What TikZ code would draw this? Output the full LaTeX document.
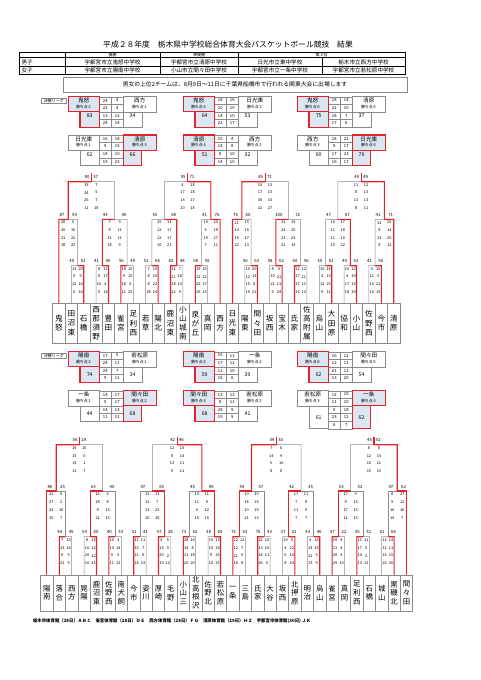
\documentclass[tikz,border=0pt]{standalone}
\usepackage{fontspec}
\setmainfont{Noto Sans CJK JP}
\usetikzlibrary{calc}
\definecolor{C_WIN}{HTML}{E4222B}
\definecolor{C_FILL}{HTML}{DCE6F1}
\definecolor{C_LINE}{HTML}{8A8A8A}

\newcommand{\fs}[1]{\fontsize{#1}{#1}\selectfont}

%% one bracket game: \n name, \ma/\mb children, \lv round, \w winner side
\newcommand{\boutbody}{%
  \edef\ty{\ifcase\lv\or\LvA\or\LvB\or\LvC\fi}%
  \edef\dx{\ifnum\lv=1 3.2\else 5\fi}%
  \coordinate (\n-L) at (\ma |- 0,\ty);
  \coordinate (\n-R) at (\mb |- 0,\ty);
  \coordinate (\n) at ($(\n-L)!0.5!(\n-R)$);
  \ifnum\w=1
    \draw[lose] (\mb) -- (\n-R) -- (\n);
    \draw[win]  (\ma) -- (\n-L) -- (\n);
  \else
    \draw[lose] (\ma) -- (\n-L) -- (\n);
    \draw[win]  (\mb) -- (\n-R) -- (\n);
  \fi
  \foreach \p/\s [count=\k] in \q {
    \node[qs] (\n-q\k l) at ($(\n)+(-\dx,3.3+\qsp*\k-\qsp)$) {\p};
    \node[qs] (\n-q\k r) at ($(\n)+(\dx,3.3+\qsp*\k-\qsp)$) {\s};
  }
  \ifnum\lv=3
    \coordinate (\n-up) at ($(\n)+(0,-\rise)$);
    \draw[win] (\n) -- (\n-up);
    \node[tot, anchor=east] (\n-tl) at ($(\n)+(-2,-4.5)$) {\lt};
    \node[tot, anchor=west] (\n-tr) at ($(\n)+(2,-4.5)$) {\rt};
  \else
    \edef\off{\ifnum\lv=1 0.5\else 3\fi}%
    \node[tot] (\n-tl) at ($(\n-L)+(\off,-4.5)$) {\lt};
    \node[tot] (\n-tr) at ($(\n-R)+(-\off,-4.5)$) {\rt};
  \fi
}

%% one league game
\newcommand{\gamebody}{%
  \foreach \p/\s [count=\k] in \q {\xdef\nr{\k}}%
  \coordinate (\id) at (\bx,\by);
  \foreach \p/\s [count=\k] in \q {
    \node[cell, anchor=north west] (\id-c\k l) at ($(\id)+(31,7.6*\k-7.6)$) {\p};
    \node[cell, anchor=north west] (\id-c\k r) at ($(\id)+(43,7.6*\k-7.6)$) {\s};
  }
  \node[pickl=\w, minimum width=31pt, minimum height=15.2pt, anchor=north west] (\id-tl) at (\id) {};
  \node[pickr=\w, minimum width=33pt, minimum height=15.2pt, anchor=north west] (\id-tr) at ($(\id)+(55,0)$) {};
  \node[lgname] (\id-tln) at ($(\id-tl.north)+(0,4)$) {\lname};
  \node[lgpts]  (\id-tlp) at ($(\id-tl.north)+(0,10.2)$) {\lp};
  \node[lgname] (\id-trn) at ($(\id-tr.north)+(0,4)$) {\rname};
  \node[lgpts]  (\id-trp) at ($(\id-tr.north)+(0,10.2)$) {\rp};
  \node[pickl=\w, minimum width=19.3pt, minimum height={7.6*\nr-15.2}, anchor=north west]
    (\id-bl) at ($(\id)+(11.7,15.2)$) {};
  \node[pickr=\w, minimum width=18.5pt, minimum height={7.6*\nr-15.2}, anchor=north west]
    (\id-br) at ($(\id)+(55,15.2)$) {};
  \node[lgtot] (\id-nl) at ($(\id-bl.north)!\totfrac!(\id-bl.south)$) {\lt};
  \node[lgtot] (\id-nr) at ($(\id-br.north)!\totfrac!(\id-br.south)$) {\rt};
}

\begin{document}
\begin{tikzpicture}[x=1pt, y=-1pt,
  every node/.style={inner sep=0pt, outer sep=0pt},
  win/.style={draw=C_WIN, line width=1.1pt},
  lose/.style={draw=C_LINE, line width=0.5pt},
  wbox/.style={draw=C_WIN, line width=1.1pt, fill=C_FILL},
  lbox/.style={draw=C_LINE, line width=0.5pt, fill=white},
  pickl/.code={\ifnum#1=1 \pgfkeysalso{/tikz/wbox}\else\pgfkeysalso{/tikz/lbox}\fi},
  pickr/.code={\ifnum#1=2 \pgfkeysalso{/tikz/wbox}\else\pgfkeysalso{/tikz/lbox}\fi},
  team/.style={draw=C_LINE, line width=0.5pt, minimum width=12.4pt, align=center},
  qs/.style={font=\fs{3.9}},
  tot/.style={font=\fs{4.3}},
  cell/.style={draw=C_LINE, line width=0.4pt, minimum width=12pt, minimum height=7.6pt, font=\fs{4.2}},
  lgname/.style={font=\fs{5.6}},
  lgpts/.style={font=\fs{3.9}},
  lgtot/.style={font=\fs{5.2}},
  tag/.style={draw=C_LINE, line width=0.4pt, minimum width=24.3pt, minimum height=5.5pt, font=\fs{4}},
  tbl/.style={font=\fs{5.6}},
]
\useasboundingbox (0,0) rectangle (481,680);

%% title and results table
\node[font=\fs{7.8}] (title) at (228,45)
  {平成２８年度　栃木県中学校総合体育大会バスケットボール競技　結果};
\draw[line width=0.9pt] (19,52) rectangle (405,74);
\draw[line width=0.4pt] (19,57.3) -- (405,57.3) (19,66) -- (405,66)
  (65,52) -- (65,74) (160,52) -- (160,74) (238,52) -- (238,74) (322,57.3) -- (322,74);
\foreach \hd/\hx [count=\i] in {優勝/112.5,準優勝/199,第３位/321.5}
  \node[font=\fs{4}] (head\i) at (\hx,54.7) {\hd};
\foreach \sx/\colA/\colB/\colC/\colD/\ry [count=\i] in {
  男子/宇都宮市立鬼怒中学校/宇都宮市立清原中学校/日光市立東中学校/栃木市立西方中学校/62.7,
  女子/宇都宮市立陽南中学校/小山市立間々田中学校/宇都宮市立一条中学校/宇都宮市立若松原中学校/70.2}{
  \node[tbl, anchor=west] (sex\i) at (21.5,\ry) {\sx};
  \node[tbl] (first\i)  at (112.5,\ry) {\colA};
  \node[tbl] (second\i) at (199,\ry)   {\colB};
  \node[tbl] (thirdA\i) at (280,\ry)   {\colC};
  \node[tbl] (thirdB\i) at (363.5,\ry) {\colD};
}
\node[draw=C_LINE, line width=0.5pt, minimum width=344pt, minimum height=14.5pt, font=\fs{5.8}]
  (note) at (235,84.5) {男女の上位2チームは、8月9日～11日に千葉県船橋市で行われる関東大会に出場します};

%% league games
\node[tag] (tagB) at (53.8,100.7) {決勝リーグ};
\node[tag] (tagG) at (53.8,355.7) {決勝リーグ};
\def\totfrac{0.27}
\foreach \id/\bx/\by/\lname/\lp/\rname/\rp/\w/\lt/\rt/\q in {
  bg1/68.3/96.7/鬼怒/勝ち点２/西方/勝ち点１/1/83/34/{24/4,22/4,13/12,24/14},
  bg2/183.3/96.7/鬼怒/勝ち点４/日光東/勝ち点２/1/64/53/{18/16,10/10,14/10,22/17},
  bg3/297.3/96.7/鬼怒/勝ち点６/清原/勝ち点５/1/75/37/{18/14,22/10,18/7,17/6},
  bg4/68.3/135/日光東/勝ち点１/清原/勝ち点３/2/62/66/{16/18,9/15,18/10,19/23},
  bg5/183.3/135/清原/勝ち点４/西方/勝ち点２/1/51/32/{15/4,14/8,8/10,14/10},
  bg6/297.3/135/西方/勝ち点３/日光東/勝ち点４/2/60/79/{18/22,9/17,17/23,16/17}}{\gamebody}
\def\totfrac{0.5}
\foreach \id/\bx/\by/\lname/\lp/\rname/\rp/\w/\lt/\rt/\q in {
  gg1/68.3/351.7/陽南/勝ち点２/若松原/勝ち点１/1/74/34/{17/5,24/11,24/7,9/11},
  gg2/183.3/351.7/陽南/勝ち点４/一条/勝ち点２/1/59/39/{15/11,17/12,11/10,16/6},
  gg3/297.3/351.7/陽南/勝ち点６/間々田/勝ち点５/1/62/54/{16/12,12/11,21/11,13/20},
  gg4/68.3/390.7/一条/勝ち点１/間々田/勝ち点２/2/44/68/{14/17,5/17,14/13,11/21},
  gg5/183.3/390.7/間々田/勝ち点４/若松原/勝ち点２/1/68/41/{13/12,8/11,28/9,19/9},
  gg6/297.3/390.7/若松原/勝ち点３/一条/勝ち点４/2/61/62/{12/15,11/10,9/18,23/12,6/7}}{\gamebody}

%% boys teams
\foreach \nm [count=\i] in {鬼\\怒,田\\沼\\東,石\\橋,西\\那\\須\\野,豊\\田,雀\\宮,足\\利\\西,
  若\\草,陽\\北,鹿\\沼\\東,小\\山\\城\\南,泉\\が\\丘,真\\岡,西\\方,
  日\\光\\東,陽\\東,間\\々\\田,坂\\西,宝\\木,氏\\家,佐\\高\\附\\属,
  烏\\山,大\\田\\原,協\\和,小\\山,佐\\野\\西,今\\市,清\\原}{
  \node[team, minimum height=40pt, font=\fontsize{7.6}{9.2}\selectfont]
    (bteam\i) at ({52.7+(\i-0.5)*12.4},323.3) {\nm};
  \coordinate (b\i) at (bteam\i.north);
}

%% girls teams
\foreach \nm [count=\i] in {陽\\南,落\\合,西\\方,晃\\陽,鹿\\沼\\東,佐\\野\\西,南\\犬\\飼,
  今\\市,姿\\川,厚\\崎,毛\\野,小\\山\\三,北\\高\\根\\沢,佐\\野\\北,若\\松\\原,
  一\\条,三\\島,氏\\家,大\\谷,坂\\西,北\\押\\原,明\\治,烏\\山,
  雀\\宮,真\\岡,足\\利\\西,石\\橋,城\\山,黒\\磯\\北,間\\々\\田}{
  \node[team, minimum height=35.7pt, font=\fontsize{7.4}{8.6}\selectfont]
    (gteam\i) at ({40.7+(\i-0.5)*12.4},592.9) {\nm};
  \coordinate (g\i) at (gteam\i.north);
}

%% boys bracket
\def\LvA{265.7}\def\LvB{219.3}\def\LvC{181.7}\def\qsp{7.6}\def\rise{8.7}
\foreach \n/\ma/\mb/\lv/\w/\lt/\rt/\q in {
  bm1/b2/b3/1/2/40/61/{13/20,9/9,12/16,6/16},
  bm2/b4/b5/1/2/41/46/{8/11,8/17,16/4,9/14},
  bm3/b6/b7/1/1/56/49/{18/10,9/10,18/4,11/25},
  bm4/b1/bm1/2/1/87/59/{28/5,20/10,21/22,18/22},
  bm5/bm2/bm3/2/1/44/40/{7/9,8/11,11/11,18/9},
  bm6/bm4/bm5/3/1/80/37/{19/7,24/5,26/7,11/18},
  bm7/b8/b9/1/2/51/66/{7/15,8/15,8/22,28/14},
  bm8/b10/b11/1/1/82/48/{21/7,21/18,18/14,22/9},
  bm9/b12/b13/1/1/68/59/{19/15,12/12,22/17,15/15},
  bm10/bm7/bm8/2/2/55/68/{15/13,12/17,12/17,16/21},
  bm11/bm9/b14/2/2/41/76/{10/20,5/18,19/27,7/11},
  bm12/bm10/bm11/3/2/55/71/{4/18,17/18,14/17,20/18},
  bm13/b16/b17/1/2/56/63/{10/20,12/14,15/8,19/21},
  bm14/b18/b19/1/2/58/62/{8/6,19/21,22/11,9/24},
  bm15/b20/b21/1/1/60/56/{12/12,17/21,17/11,14/12},
  bm16/b15/bm13/2/1/76/60/{21/15,14/15,19/17,22/13},
  bm17/bm14/bm15/2/1/100/72/{31/19,24/10,23/24,22/19},
  bm18/bm16/bm17/3/1/85/71/{16/13,17/15,30/16,22/27},
  bm19/b22/b23/1/2/35/61/{10/14,4/13,12/23,9/11},
  bm20/b24/b25/1/2/49/63/{10/12,4/19,17/13,18/19},
  bm21/b26/b27/1/2/42/56/{6/15,11/5,15/21,10/15},
  bm22/bm19/bm20/2/2/47/67/{10/17,11/18,11/10,15/22},
  bm23/bm21/b28/2/2/41/71/{12/25,8/14,13/20,8/12},
  bm24/bm22/bm23/3/2/40/49/{11/12,8/13,13/13,8/11}}{\boutbody}

%% girls bracket
\def\LvA{536.7}\def\LvB{491}\def\LvC{444.7}\def\qsp{7.8}\def\rise{7.7}
\foreach \n/\ma/\mb/\lv/\w/\lt/\rt/\q in {
  gm1/g2/g3/1/1/49/45/{7/13,13/14,8/9,21/9},
  gm2/g4/g5/1/2/54/60/{8/15,16/12,20/12,10/21},
  gm3/g6/g7/1/1/40/33/{10/4,10/14,9/3,11/12},
  gm4/g1/gm1/2/1/86/25/{21/6,27/2,23/10,15/7},
  gm5/gm2/gm3/2/1/63/40/{16/4,18/8,8/13,21/15},
  gm6/gm4/gm5/3/1/56/29/{16/15,15/6,14/1,11/7},
  gm7/g8/g9/1/1/51/41/{11/11,15/7,11/9,14/14},
  gm8/g10/g11/1/1/47/28/{4/5,13/9,20/2,10/12},
  gm9/g12/g13/1/1/73/62/{28/16,14/8,11/18,20/20},
  gm10/g14/g15/1/2/38/60/{10/13,10/16,8/16,10/15},
  gm11/gm7/gm8/2/2/47/60/{12/13,12/7,13/22,10/18},
  gm12/gm9/gm10/2/2/45/46/{13/11,11/8,6/12,15/15},
  gm13/gm11/gm12/3/2/42/46/{12/10,8/14,13/11,9/11},
  gm14/g16/g17/1/1/73/33/{22/12,12/7,21/6,18/8},
  gm15/g18/g19/1/1/75/43/{22/10,13/16,14/11,26/6},
  gm16/g20/g21/1/2/37/61/{19/5,4/22,6/10,8/24},
  gm17/g22/g23/1/2/43/46/{4/16,14/15,12/6,13/9},
  gm18/gm14/gm15/2/1/59/57/{10/10,18/15,10/19,21/13},
  gm19/gm16/gm17/2/1/42/35/{17/11,7/8,11/9,7/7},
  gm20/gm18/gm19/3/1/34/33/{7/6,14/9,5/10,8/8},
  gm21/g24/g25/1/1/97/22/{19/4,21/4,28/4,29/10},
  gm22/g26/g27/1/1/55/31/{11/12,17/5,14/2,13/12},
  gm23/g28/g29/1/2/61/66/{13/14,12/11,14/15,22/26},
  gm24/gm21/gm22/2/1/53/52/{17/9,8/13,17/15,11/15},
  gm25/gm23/g30/2/2/47/62/{8/27,9/12,16/16,14/7},
  gm26/gm24/gm25/3/2/45/52/{8/8,12/14,10/11,15/19}}{\boutbody}

%% venues
\node[font=\fs{4.4}\bfseries, anchor=west] (venue) at (33,621)
  {栃木市体育館（28日）ＡＢＣ　雀宮体育館（28日）ＤＥ　西方体育館（28日）ＦＧ　清原体育館（29日）ＨＩ　宇都宮市体育館(30日) ＪＫ};
\end{tikzpicture}
\end{document}
